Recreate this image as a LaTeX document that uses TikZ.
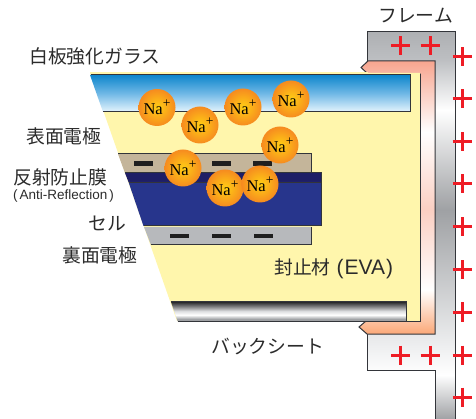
\documentclass[tikz,border=0pt]{standalone}
\usepackage{fontspec}
\setmainfont{Noto Sans CJK JP}
\newfontfamily\ionfont{Liberation Serif}
\newfontfamily\latinfont{Liberation Sans}
\definecolor{ink}{HTML}{2B2B2B}
\definecolor{edgeink}{HTML}{33353A}
\definecolor{evay}{HTML}{FFF6AC}
\definecolor{fA}{HTML}{AEB0B3}
\definecolor{fB}{HTML}{BDBFC2}
\definecolor{fC}{HTML}{FFFFFF}
\definecolor{fD}{HTML}{9FA1A4}
\definecolor{fE}{HTML}{F0F1F2}
\definecolor{fF}{HTML}{A0A2A5}
\definecolor{sA}{HTML}{F7A58F}
\definecolor{sB}{HTML}{FBCFC2}
\definecolor{sC}{HTML}{FBA878}
\definecolor{bA}{HTML}{2A2A2C}
\definecolor{bM}{HTML}{777779}
\definecolor{bB}{HTML}{DDDEE0}
\definecolor{bC}{HTML}{9FA1A4}
\definecolor{glassT}{HTML}{0E86CC}
\definecolor{glassM}{HTML}{70B8E6}
\definecolor{glassB}{HTML}{E6F5FD}
\definecolor{tan}{HTML}{C4B59A}
\definecolor{backel}{HTML}{B7B9BC}
\definecolor{arc}{HTML}{1E1E66}
\definecolor{cellb}{HTML}{27358C}
\definecolor{ionin}{HTML}{FFCE14}
\definecolor{ionout}{HTML}{F68B1F}
\definecolor{plusred}{HTML}{EE1C25}
\pgfdeclareverticalshading{frameshade}{100bp}{color(0bp)=(fF); color(25bp)=(fF); color(30.7bp)=(fC); color(33.9bp)=(fE); color(52bp)=(fD); color(64.9bp)=(fC); color(71.4bp)=(fB); color(75bp)=(fA); color(100bp)=(fA)}
\pgfdeclareverticalshading{salmonshade}{100bp}{color(0bp)=(sC); color(25bp)=(sC); color(33.1bp)=(fC); color(47.7bp)=(sB); color(62bp)=(fC); color(75bp)=(sA); color(100bp)=(sA)}
\pgfdeclareverticalshading{backshade}{100bp}{color(0bp)=(bC); color(25bp)=(bC); color(30bp)=(bC); color(41bp)=(fC); color(51bp)=(bB); color(64.5bp)=(bM); color(75bp)=(bA); color(100bp)=(bA)}
\tikzset{
  outl/.style={draw=edgeink,line width=1pt,line join=miter},
  bar/.style={fill=black!88,draw=none},
  lab/.style={text=ink,font=\fontsize{18.8}{20}\selectfont,inner sep=0pt,anchor=west},
  ion/.style={circle,minimum size=37pt,inner sep=0pt,shade,inner color=ionin,outer color=ionout,text=black,font=\ionfont\fontsize{16.5}{17}\selectfont},
  plusmark/.style={draw=plusred,line width=3pt},
}
\newcommand{\ionlab}{Na\raisebox{0.42em}{\fontsize{13.5}{13}\selectfont +}}
\begin{document}
\begin{tikzpicture}[x=1pt,y=-1pt]
\useasboundingbox (0,0) rectangle (476,419);
% frame
\shade[shading=frameshade] (367,32) -- (455,32) -- (455,419) -- (435,419) -- (435,370) -- (367,370) -- (367,334) -- (435,334) -- (435,61) -- (367,61) -- cycle;
\draw[outl] (435,419) -- (435,370) -- (367,370) -- (367,334);
\draw[outl] (367,61) -- (367,32) -- (455,32) -- (455,419);
% salmon sealing layer
\shade[shading=salmonshade] (368,61) -- (435,61) -- (435,334) -- (367,334) -- (359,327) -- (366,321) -- (420,321) -- (420,74) -- (368,74) -- (361,67.5) -- cycle;
\draw[outl] (368,74) -- (361,67.5) -- (368,61) -- (435,61) -- (435,334) -- (367,334) -- (359,327) -- (366,321) -- (420,321) -- (420,74) -- cycle;
% EVA
\fill[evay] (90,73) -- (420,73) -- (420,321) -- (177,321) -- cycle;
\draw[outl] (420,74) -- (420,321) -- (366,321);
\draw[evay,line width=1pt] (90,73) -- (368,73);
% glass
\shade[top color=glassT,bottom color=glassB,middle color=glassM] (90,75) -- (410,75) -- (410,112) -- (103,112) -- cycle;
\draw[outl] (91,75) -- (410,75) -- (410,112) -- (103,112);
% front electrode
\fill[tan] (118,154) -- (311,154) -- (311,173) -- (125,173) -- cycle;
\draw[outl] (118,154) -- (311,154) -- (311,173);
% back electrode
\fill[backel] (144,227) -- (311,227) -- (311,245) -- (151,245) -- cycle;
\draw[outl] (151,245) -- (311,245) -- (311,227);
% cell
\fill[arc] (125,173) -- (321,173) -- (321,182) -- (128.5,182) -- cycle;
\fill[cellb] (128.5,182) -- (321,182) -- (321,226) -- (143.5,226) -- cycle;
\draw[outl] (125,173) -- (321,173) -- (321,226) -- (143.5,226);
\draw[outl,line width=0.8pt] (128.5,182) -- (321,182);
% bars
\foreach \bx in {134,212,253} \fill[bar] (\bx,161) rectangle (\bx+19,166);
\foreach \bx in {170,212,254} \fill[bar] (\bx,234) rectangle (\bx+19,238);
% backsheet
\shade[shading=backshade] (171,302) -- (406,302) -- (406,321) -- (177.5,321) -- cycle;
\draw[outl] (171,302) -- (406,302) -- (406,321);
\draw[outl] (177.5,321) -- (406,321);
% ions
\node[ion] (i1) at (157,107.5) {\ionlab};
\node[ion] (i2) at (200,125) {\ionlab};
\node[ion] (i3) at (243,107) {\ionlab};
\node[ion] (i4) at (291,99) {\ionlab};
\node[ion] (i5) at (280,145) {\ionlab};
\node[ion] (i6) at (183,168) {\ionlab};
\node[ion] (i7) at (225,188) {\ionlab};
\node[ion] (i8) at (260,184) {\ionlab};
% labels
\node[lab] (l1) at (29,56) {白板強化ガラス};
\node[lab] (l2) at (26,136) {表面電極};
\node[lab] (l3) at (13,177) {反射防止膜};
\node[lab,font=\latinfont\fontsize{13.5}{14}\selectfont] (l4) at (13,196) {(\hspace{2pt}Anti-Reflection\hspace{2pt})};
\node[lab] (l5) at (88,223) {セル};
\node[lab] (l6) at (62,255) {裏面電極};
\node[lab] (l7) at (274,269) {封止材{\latinfont\fontsize{21}{20}\selectfont\hspace{6pt}(\hspace{1pt}EVA\hspace{1pt})}};
\node[lab] (l8) at (211,347) {バックシート};
\node[lab] (l9) at (378,16) {フレーム};
% plus signs
\foreach \px/\py in {400.5/46,430/46,400.5/355,430/355,462/57,462/99,462/142,462/184,462/227,462/270,462/312,462/355,462/397}
  \draw[plusmark] (\px-9.5,\py) -- (\px+9.5,\py) (\px,\py-9.5) -- (\px,\py+9.5);
\end{tikzpicture}
\end{document}
